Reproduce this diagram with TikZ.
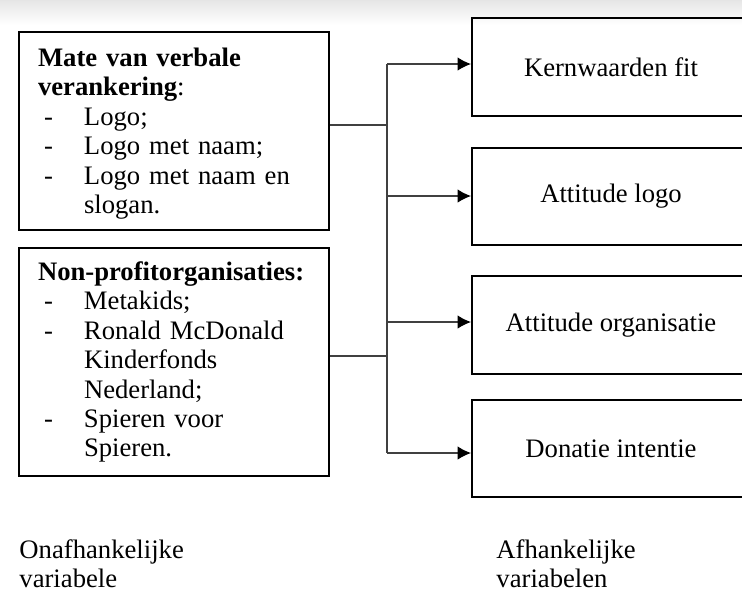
\documentclass[tikz,border=0pt]{standalone}
\usepackage{fontspec}
\setmainfont{Liberation Serif}
\usetikzlibrary{arrows.meta,positioning}

\newcommand{\listdash}[1]{\makebox[20.7pt][l]{\hspace{2.7pt}-}#1}
\newcommand{\listcont}[1]{\makebox[20.7pt]{}#1}

\begin{document}
\begin{tikzpicture}[
x=0.45pt, y=-0.45pt,
every node/.append style={font=\fontsize{12}{13.25}\selectfont},
leftbox/.style={rectangle, draw, line width=0.9pt, anchor=north west, text width=122.4pt, inner xsep=8.55pt, align=left},
rightbox/.style={rectangle, draw, line width=0.9pt, minimum width=125.1pt, minimum height=43.9pt},
link/.style={draw=black!75, line width=0.5pt},
arrowline/.style={link, arrows={-Latex[length=6pt,width=6pt,black]}},
caption/.style={anchor=north west, align=left, inner sep=0pt}]
\useasboundingbox (0,0) rectangle (742,596);
\shade[top color=black!10, bottom color=white] (0,0) rectangle (742,25);
% Nodes
\node[leftbox, minimum height=89.1pt] (verank) at (18,31) {\rule{0pt}{10.8pt}\textbf{Mate van verbale}\\
  \textbf{verankering}:\\
  \listdash{Logo;}\\
  \listdash{Logo met naam;}\\
  \listdash{Logo met naam en}\\
  \listcont{slogan.}};
\node[leftbox, minimum height=102.6pt, below=7.2pt of verank] (nonprofit) {\textbf{Non-profitorganisaties:}\\
  \listdash{Metakids;}\\
  \listdash{Ronald McDonald}\\
  \listcont{Kinderfonds}\\
  \listcont{Nederland;}\\
  \listdash{Spieren voor}\\
  \listcont{Spieren.}};
\node[rightbox, anchor=north west] (kern) at (471,17) {Kernwaarden fit};
\node[rightbox, below=13.5pt of kern] (attlogo) {Attitude logo};
\node[rightbox, below=13.05pt of attlogo] (attorg) {Attitude organisatie};
\node[rightbox, below=10.8pt of attorg] (donatie) {Donatie intentie};
\node[caption] (indep) at (19,539) {Onafhankelijke\\variabele};
\node[caption] (dep) at (496,539) {Afhankelijke\\variabelen};
% Lines
\coordinate (trunktop) at (387,64);
\coordinate (joinverank) at (387,125);
\coordinate (tologo) at (387,196);
\coordinate (toorg) at (387,322);
\coordinate (joinnonprofit) at (387,356);
\coordinate (trunkbot) at (387,453);
\draw[link] (trunktop) -- (trunkbot);
\draw[link] (verank.east |- joinverank) -- (joinverank);
\draw[link] (nonprofit.east |- joinnonprofit) -- (joinnonprofit);
\draw[arrowline] (trunktop) -- (trunktop -| kern.west);
\draw[arrowline] (tologo) -- (tologo -| attlogo.west);
\draw[arrowline] (toorg) -- (toorg -| attorg.west);
\draw[arrowline] (trunkbot) -- (trunkbot -| donatie.west);
\end{tikzpicture}
\end{document}
